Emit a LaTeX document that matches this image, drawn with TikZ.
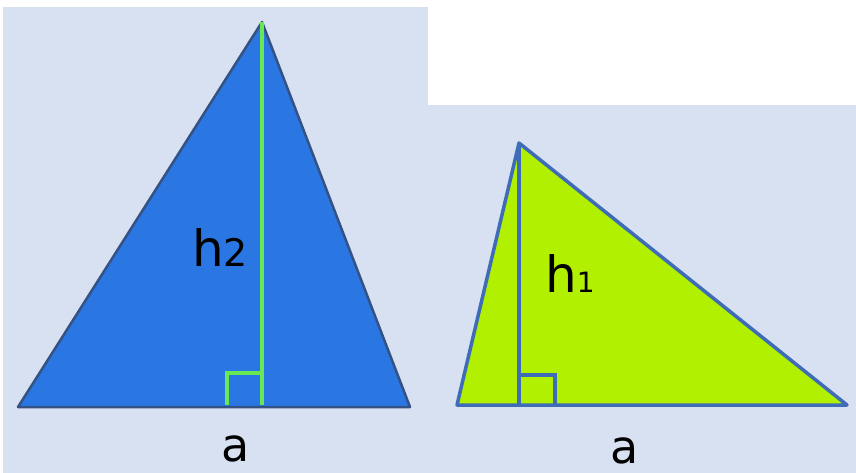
\documentclass[tikz,border=0pt]{standalone}
\usepackage{fontspec}
\setmainfont{DejaVu Sans}
\definecolor{panelBg}{RGB}{216,225,241}
\definecolor{triBlue}{RGB}{42,118,226}
\definecolor{triEdge}{RGB}{52,82,132}
\definecolor{triLime}{RGB}{178,240,2}
\definecolor{limeEdge}{RGB}{62,108,184}
\definecolor{altGreen}{RGB}{104,232,84}
\usetikzlibrary{positioning,calc}

\begin{document}
\begin{tikzpicture}[x=1pt,y=-1pt,
  panel/.style={fill=panelBg, draw=none},
  lbl/.style={inner sep=0pt, anchor=base west, text=black, text depth=0pt},
  big/.style={font=\fontsize{50}{50}\selectfont},
  base/.style={font=\fontsize{46}{46}\selectfont}
]
  \useasboundingbox (0,0) rectangle (856,473);
  % backgrounds
  \fill[white] (0,0) rectangle (856,473);
  \path[panel] (3,7) rectangle (428,473);
  \path[panel] (428,105) rectangle (856,473);

  % left triangle
  \coordinate (lA) at (262,22);
  \coordinate (lB) at (18,407);
  \coordinate (lC) at (410,407);
  \coordinate (lF) at (262,405);
  \filldraw[fill=triBlue, draw=triEdge, line width=2.5pt, line join=round] (lB) -- (lA) -- (lC) -- cycle;
  \draw[altGreen, line width=3.5pt] (lA) -- (lF);
  \draw[altGreen, line width=3.5pt] ($(lF)+(-35,0)$) |- ($(lF)+(0,-32)$);

  % right triangle
  \coordinate (rA) at (519,143);
  \coordinate (rB) at (457,405);
  \coordinate (rC) at (847,405);
  \coordinate (rF) at (519,405);
  \filldraw[fill=triLime, draw=limeEdge, line width=3.5pt, line join=round] (rB) -- (rA) -- (rC) -- cycle;
  \draw[limeEdge, line width=3.5pt] (rA) -- (rF);
  \draw[limeEdge, line width=3.5pt] ($(rF)+(36,0)$) |- ($(rF)+(0,-30)$);

  % labels
  \node[lbl, big] (hTwo) at (192,266) {h\fontsize{38}{38}\selectfont 2};
  \node[lbl, big] (hOne) at (545,292) {h\fontsize{28}{28}\selectfont 1};
  \node[lbl, base] (aLeft) at (221,461) {a};
  \node[lbl, base] (aRight) at (610,463) {a};
\end{tikzpicture}
\end{document}
